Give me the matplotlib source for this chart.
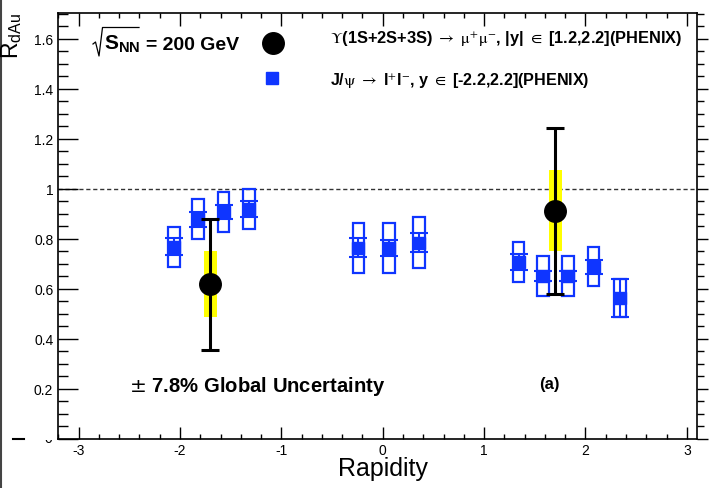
import matplotlib
matplotlib.use('Agg')
import matplotlib.pyplot as plt
from matplotlib.patches import Rectangle
from matplotlib.lines import Line2D
from matplotlib.ticker import MultipleLocator, FuncFormatter, NullFormatter
from matplotlib.transforms import Bbox

plt.rcParams['font.family'] = ['Liberation Sans', 'DejaVu Sans']
plt.rcParams['axes.unicode_minus'] = False
plt.rcParams['mathtext.fontset'] = 'custom'
plt.rcParams['mathtext.rm'] = 'Liberation Sans'
plt.rcParams['mathtext.it'] = 'Liberation Sans:italic'
plt.rcParams['mathtext.bf'] = 'Liberation Sans:bold'

# ---- data ----
jpsi_y = [-2.06, -1.82, -1.57, -1.32, -0.24, 0.06, 0.36, 1.34, 1.58, 1.83, 2.08, 2.34]
jpsi_r = [0.768, 0.878, 0.906, 0.918, 0.764, 0.763, 0.783, 0.706, 0.651, 0.651, 0.687, 0.562]
jpsi_stat = [0.034, 0.030, 0.027, 0.031, 0.038, 0.032, 0.038, 0.032, 0.020, 0.020, 0.027, 0.075]
jpsi_syst = [0.080, 0.079, 0.079, 0.079, 0.100, 0.099, 0.102, 0.080, 0.080, 0.080, 0.078, 0.075]

ups_y = [-1.70, 1.70]
ups_r = [0.618, 0.911]
ups_stat = [0.262, 0.332]
ups_syst = [0.131, 0.162]

xticks = [-3, -2, -1, 0, 1, 2, 3]

BLUE = '#0f35ff'
W, H = 710, 489
L, R, T, B = 58.3, 697.0, 14.0, 439.5

fig = plt.figure(figsize=(W / 100, H / 100), dpi=100)
ax = fig.add_axes([L / W, (H - B) / H, (R - L) / W, (B - T) / H])
ax.set_xlim(-3.2, 3.1)
ax.set_ylim(0, 1.702)

# reference line
ax.plot([-3.2, 3.1], [1, 1], ls=(0, (3, 2)), color='#333333', lw=1, zorder=1)

# J/psi systematic boxes
bw = 0.115
for x, y, s in zip(jpsi_y, jpsi_r, jpsi_syst):
    ax.add_patch(Rectangle((x - bw / 2, y - s), bw, 2 * s, fill=False,
                           ec=BLUE, lw=1.6, zorder=2))
ax.errorbar(jpsi_y, jpsi_r, yerr=jpsi_stat, fmt='s', color=BLUE, ms=9,
            elinewidth=1.5, capsize=6.5, capthick=1.5, zorder=3)

# Upsilon systematic (yellow) + stat
yw = 0.128
for x, y, s in zip(ups_y, ups_r, ups_syst):
    ax.add_patch(Rectangle((x - yw / 2, y - s), yw, 2 * s, fc='#ffff00',
                           ec='none', zorder=2.5))
ax.errorbar(ups_y, ups_r, yerr=ups_stat, fmt='o', color='black', ms=15.5,
            elinewidth=2.2, capsize=6.5, capthick=2.2, zorder=4)

# ticks
ax.xaxis.set_major_locator(MultipleLocator(1))
ax.xaxis.set_minor_locator(MultipleLocator(0.2))
ax.yaxis.set_major_locator(MultipleLocator(0.2))
ax.yaxis.set_minor_locator(MultipleLocator(0.05))
ax.set_xticks(xticks)
ax.xaxis.set_major_formatter(FuncFormatter(lambda v, p: '%d' % round(v)))


def yfmt(v, p):
    if abs(v) < 1e-6:
        return ''
    if abs(v - 1) < 1e-6:
        return '1'
    return '%.1f' % v


ax.yaxis.set_major_formatter(FuncFormatter(yfmt))
ax.tick_params(axis='x', which='major', direction='in', length=9, width=1,
               top=True, labelsize=10, pad=3)
ax.tick_params(axis='x', which='minor', direction='in', length=3.8, width=1, top=True)
ax.tick_params(axis='y', which='major', direction='in', length=14.4, width=1,
               right=False, labelsize=10, pad=3.6)
ax.tick_params(axis='y', which='minor', direction='in', length=7.2, width=1, right=False)
for sp in ax.spines.values():
    sp.set_linewidth(1.2)

# right-hand axis: ticks pointing outward
ax2 = ax.twinx()
ax2.set_ylim(ax.get_ylim())
ax2.yaxis.set_major_locator(MultipleLocator(0.2))
ax2.yaxis.set_minor_locator(MultipleLocator(0.05))
ax2.yaxis.set_major_formatter(NullFormatter())
ax2.tick_params(axis='y', which='major', direction='out', length=8, width=1)
ax2.tick_params(axis='y', which='minor', direction='out', length=5, width=1)
for sp in ax2.spines.values():
    sp.set_visible(False)

# axis titles
fig.text(383 / W, 1 - 476 / H, 'Rapidity', ha='center', va='baseline', fontsize=18)
fig.text(11.5 / W, 1 - 13 / H, r'$\mathrm{R_{dAu}}$', rotation=90, ha='center',
         va='top', fontsize=16.5)

# header: sqrt(S_NN) = 200 GeV, radical drawn as a thin line
fig.add_artist(Line2D([93 / W, 95.5 / W, 99 / W, 102.5 / W, 139 / W],
                      [1 - 45 / H, 1 - 43 / H, 1 - 57 / H, 1 - 28.5 / H, 1 - 28.5 / H],
                      color='black', lw=0.9, transform=fig.transFigure))
fig.text(104 / W, 1 - 50 / H, r'$\mathbf{S_{NN}}$', ha='left', va='baseline',
         fontsize=15)
fig.text(146 / W, 1 - 50 / H, '= 200 GeV', ha='left', va='baseline',
         fontsize=14, fontweight='bold')

fig.text(330 / W, 1 - 43.5 / H,
         r'$\Upsilon$(1S+2S+3S) $\rightarrow$ $\mathrm{\mu^{+}\mu^{-}}$, |y| $\in$ [1.2,2.2](PHENIX)',
         ha='left', va='baseline', fontsize=11.8, fontweight='bold', math_fontfamily='stix')
fig.text(330 / W, 1 - 85 / H,
         r'J/$\mathrm{\psi}$ $\rightarrow$ l$^{+}$l$^{-}$, y $\in$ [-2.2,2.2](PHENIX)',
         ha='left', va='baseline', fontsize=11.6, fontweight='bold', math_fontfamily='stix')
fig.add_artist(Line2D([272.5 / W], [1 - 44 / H], marker='o', ms=15.5, color='black',
                      ls='none', transform=fig.transFigure))
fig.add_artist(Line2D([272 / W], [1 - 79 / H], marker='s', ms=8, color=BLUE,
                      ls='none', transform=fig.transFigure))

fig.text(129 / W, 1 - 392 / H, r'$\pm$ 7.8% Global Uncertainty', ha='left',
         va='baseline', fontsize=14.6, fontweight='bold', math_fontfamily='dejavusans')
fig.text(549 / W, 1 - 389 / H, '(a)', ha='center', va='baseline', fontsize=12,
         fontweight='bold')

# cropped-canvas remnants
fig.add_artist(Line2D([1.5 / W, 1.5 / W], [0, 1], color='#444444', lw=1.5,
                      transform=fig.transFigure))
fig.add_artist(Line2D([13 / W, 24 / W], [1 - 439.5 / H, 1 - 439.5 / H], color='black',
                      lw=1.5, transform=fig.transFigure))
t0 = fig.text(52 / W, 1 - 439.5 / H, '0', ha='right', va='center', fontsize=10)
t0.set_clip_box(Bbox.from_extents(0, 0, W, H - 441))
t0.set_clip_on(True)

fig.savefig('out.png', dpi=100)
